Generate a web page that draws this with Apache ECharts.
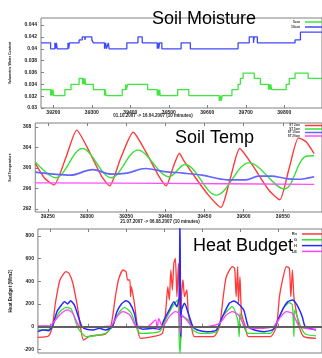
<!DOCTYPE html>
<html>
<head>
<meta charset="utf-8">
<script src="https://cdn.jsdelivr.net/npm/echarts@6/dist/echarts.min.js"></script>
<style>
html, body { margin: 0; padding: 0; background: #fff; }
#chart { width: 322px; height: 358px; }
</style>
</head>
<body>
<div id="chart"></div>
<script>
// tick labels
var moistXTicks = [39200, 39300, 39400, 39500, 39600, 39700, 39800];
var moistYTicks = [0.03, 0.032, 0.034, 0.036, 0.038, 0.04, 0.042, 0.044];
var tempXTicks = [39250, 39300, 39350, 39400, 39450, 39500, 39550];
var tempYTicks = [292, 296, 300, 304, 308];
var heatXTicks = [39250, 39300, 39350, 39400, 39450, 39500, 39550];
var heatYTicks = [-200, 0, 200, 400, 600, 800];

// soil moisture (step data)
var moist5cm = [
  [39168, 0.0331], [39193, 0.0321], [39195, 0.0331], [39197, 0.0321], [39199, 0.0331], [39201, 0.0321],
  [39230, 0.0331], [39246, 0.034], [39267, 0.035], [39276, 0.034], [39278, 0.035], [39280, 0.034], [39282, 0.035], [39284, 0.034],
  [39304, 0.0331], [39333, 0.0321], [39335, 0.0331], [39337, 0.0321],
  [39379, 0.0331], [39388, 0.034], [39390, 0.0331], [39393, 0.034],
  [39445, 0.0331], [39470, 0.0321], [39472, 0.0331], [39474, 0.0321], [39476, 0.0331], [39478, 0.0321],
  [39523, 0.0331], [39552, 0.0321], [39631, 0.0312], [39634, 0.0321], [39636, 0.0312], [39639, 0.0321],
  [39664, 0.0331], [39680, 0.034], [39686, 0.035], [39693, 0.0359], [39722, 0.035], [39738, 0.034],
  [39759, 0.0331], [39761, 0.034], [39763, 0.0331], [39765, 0.034], [39767, 0.0331],
  [39805, 0.034], [39813, 0.035], [39828, 0.0359], [39862, 0.035], [39898, 0.035]
];
var moist10cm = [
  [39168, 0.041], [39193, 0.040], [39204, 0.041], [39206, 0.040], [39208, 0.041], [39210, 0.040],
  [39238, 0.041], [39240, 0.040], [39242, 0.041], [39267, 0.0415], [39275, 0.042], [39282, 0.0415], [39284, 0.042],
  [39300, 0.0415], [39304, 0.041], [39333, 0.040], [39336, 0.041], [39338, 0.040], [39343, 0.041], [39345, 0.040],
  [39391, 0.041], [39420, 0.042], [39431, 0.041],
  [39470, 0.040], [39472, 0.041], [39474, 0.040], [39476, 0.041], [39482, 0.040],
  [39532, 0.041], [39556, 0.040], [39680, 0.041], [39709, 0.042], [39720, 0.041], [39722, 0.042], [39730, 0.041],
  [39828, 0.0415], [39842, 0.0428], [39898, 0.0428]
];

// soil temperature
var temp2cm = [
  [39234, 300.9], [39246, 298.0], [39258, 296.7], [39273, 302.0], [39287, 307.4], [39303, 303.2], [39319, 298.3],
  [39329, 296.5], [39343, 301.9], [39359, 307.0], [39375, 303.2], [39391, 298.6], [39401, 296.5], [39411, 300.6],
  [39418, 302.9], [39423, 301.6], [39439, 298.0], [39455, 294.7], [39471, 292.3], [39483, 298.0], [39495, 303.8],
  [39511, 300.6], [39532, 295.7], [39546, 293.8], [39558, 299.9], [39570, 305.9], [39580, 305.1], [39590, 302.8]
];
var temp5cm = [
  [39234, 301.2], [39260, 298.1], [39294, 303.8], [39331, 298.1], [39365, 303.5], [39405, 298.3], [39425, 300.7],
  [39465, 294.7], [39507, 301.0], [39552, 295.9], [39578, 302.2], [39590, 302.4]
];
var temp10cm = [
  [39234, 299.2], [39258, 298.8], [39279, 298.6], [39307, 299.7], [39331, 298.8], [39351, 299.0], [39375, 299.9],
  [39399, 299.3], [39423, 299.0], [39447, 298.6], [39479, 297.7], [39503, 297.7], [39519, 298.4], [39536, 298.4],
  [39552, 298.0], [39568, 297.8], [39590, 298.3]
];
var temp20cm = [[39234, 297.1], [39400, 297.0], [39590, 296.8]];

// heat budget
var heatRn = [
  [39234, -94], [39248, -82], [39253, 0], [39257, 206], [39263, 411], [39271, 485], [39275, 470], [39280, 382],
  [39286, 176], [39290, 0], [39294, -118], [39303, -82], [39323, -65], [39330, 0], [39336, 264], [39340, 411],
  [39346, 499], [39350, 485], [39352, 411], [39355, 411], [39356, 264], [39357, 352], [39361, 206], [39365, 0],
  [39369, -103], [39390, -82], [39398, -59], [39402, 118], [39405, 352], [39407, 235], [39409, 499], [39411, 323],
  [39413, 560], [39415, 602], [39417, 264], [39419, 558], [39421, 118], [39422, -118], [39423, 264], [39425, 411],
  [39427, 264], [39430, 323], [39432, 118], [39436, 0], [39440, -88], [39465, -88], [39473, 0], [39478, 264],
  [39482, 440], [39490, 529], [39493, 514], [39495, 264], [39497, 529], [39498, 206], [39500, 440], [39502, 118],
  [39507, 0], [39511, -88], [39540, -88], [39548, 0], [39552, 264], [39557, 440], [39561, 529], [39565, 514],
  [39567, 264], [39569, 499], [39571, 264], [39573, 176], [39578, 0], [39584, -88], [39600, -103]
];
var heatG = [
  [39234, -29], [39248, -23], [39253, 0], [39261, 118], [39271, 170], [39278, 153], [39286, 0], [39292, -59],
  [39298, -88], [39323, -59], [39332, 0], [39340, 118], [39348, 170], [39357, 118], [39363, 0], [39369, -59],
  [39394, -44], [39402, 59], [39411, 176], [39418, 235], [39420, -118], [39421, -235], [39422, -118], [39424, 88],
  [39432, 59], [39438, -29], [39448, -59], [39469, -44], [39477, 88], [39490, 176], [39497, 59], [39499, -88],
  [39500, 118], [39505, 0], [39511, -59], [39540, -59], [39548, 29], [39557, 161], [39565, 211], [39569, 191],
  [39571, -88], [39572, 147], [39580, 0], [39586, -65], [39600, -82]
];
var heatH = [
  [39234, -44], [39240, -29], [39248, -35], [39253, 0], [39259, 132], [39265, 191], [39269, 220], [39273, 200],
  [39277, 229], [39282, 191], [39288, 73], [39292, 0], [39298, -23], [39307, -29], [39315, -15], [39323, -29],
  [39332, 0], [39338, 132], [39344, 200], [39350, 229], [39355, 206], [39361, 118], [39365, 0], [39373, -23],
  [39386, -15], [39394, -23], [39400, 59], [39407, 147], [39413, 220], [39417, 176], [39420, 264], [39421, 1000],
  [39422, -88], [39423, 147], [39427, 206], [39432, 118], [39438, 0], [39444, -29], [39457, -44], [39469, -29],
  [39477, 88], [39486, 206], [39492, 226], [39498, 200], [39505, 147], [39511, 0], [39519, -29], [39532, -44],
  [39544, -23], [39550, 59], [39557, 161], [39563, 220], [39569, 235], [39575, 191], [39582, 88], [39586, 0],
  [39600, -29]
];
var heatLE = [
  [39234, 6], [39250, 6], [39257, 59], [39265, 118], [39273, 147], [39280, 118], [39288, 6], [39298, -6],
  [39315, 0], [39330, 6], [39338, 88], [39346, 132], [39355, 103], [39363, 6], [39378, 0], [39389, 59],
  [39391, -29], [39393, 73], [39398, 0], [39407, 88], [39415, 132], [39420, 118], [39421, -59], [39423, 103],
  [39430, 59], [39438, -6], [39457, 0], [39473, 29], [39482, 103], [39490, 132], [39498, 103], [39507, 0],
  [39523, -15], [39544, 0], [39553, 82], [39561, 132], [39569, 118], [39578, 0], [39586, -15], [39600, -23]
];

var tickFont = { fontSize: 5, fontWeight: 'bold', color: '#222', fontFamily: 'Liberation Sans' };
var frame = '#808080';

function xAxisOf(grid, min, max, ticks, pos, labels) {
  return {
    type: 'value', gridIndex: grid, min: min, max: max, position: pos,
    axisLine: { show: false },
    axisTick: { inside: true, length: 3, lineStyle: { color: frame }, customValues: ticks },
    axisLabel: Object.assign({ show: labels, margin: 2, customValues: ticks,
      formatter: function (v) { return String(v); } }, tickFont),
    splitLine: { show: false }
  };
}
function yAxisOf(grid, min, max, ticks, name, gap, nameSize) {
  return {
    type: 'value', gridIndex: grid, min: min, max: max,
    name: name, nameLocation: 'middle', nameRotate: 90, nameGap: gap,
    nameTextStyle: { fontSize: nameSize, fontWeight: 'bold', color: '#222', fontFamily: 'Liberation Sans' },
    axisLine: { show: false },
    axisTick: { inside: true, length: 3, lineStyle: { color: frame }, customValues: ticks },
    axisLabel: Object.assign({ margin: 4, customValues: ticks }, tickFont),
    splitLine: { show: false }
  };
}
function line(name, xi, yi, data, color, width, extra) {
  return Object.assign({
    name: name, type: 'line', xAxisIndex: xi, yAxisIndex: yi, data: data,
    showSymbol: false, symbol: 'none', lineStyle: { color: color, width: width },
    itemStyle: { color: color }, animation: false
  }, extra || {});
}
function legendOf(names, top, right, gap, size, lh, iw) {
  return {
    data: names, orient: 'vertical', top: top, right: right, align: 'right',
    itemWidth: iw, itemHeight: 1.5, itemGap: gap, padding: 0, icon: 'rect',
    textStyle: { fontSize: size, lineHeight: lh, fontWeight: 'bold', color: '#333', fontFamily: 'Liberation Sans' }
  };
}
function titleOf(text, left, top) {
  return { text: text, left: left, top: top, padding: 0,
    textStyle: { fontSize: 18, fontWeight: 'normal', color: '#000', fontFamily: 'Liberation Sans' } };
}
function caption(text, x, y) {
  return { type: 'text', x: x, y: y, silent: true,
    style: { text: text, textAlign: 'center', textVerticalAlign: 'middle', fill: '#222',
      font: 'bold 4.5px "Liberation Sans"' } };
}

var chart = echarts.init(document.getElementById('chart'));
chart.setOption({
  animation: false,
  title: [
    titleOf('Soil Moisture', 152, 10),
    titleOf('Soil Temp', 175, 129),
    titleOf('Heat Budget', 193, 237)
  ],
  legend: [
    legendOf(['5cm', '10cm'], 20, -9, 1, 3.5, 3, 26),
    legendOf(['ST 2cm', 'ST 5cm', 'ST 10cm', 'ST 20cm'], 124, -9, 0.5, 3, 2, 26),
    legendOf(['Rn', 'G', 'H', 'LE'], 232, -12, 1.8, 4, 4, 32)
  ],
  grid: [
    { left: 40, top: 18, right: -12, height: 90, show: true, borderColor: frame, borderWidth: 1 },
    { left: 30, top: 123, right: -12, height: 89, show: true, borderColor: frame, borderWidth: 1 },
    { left: 35, top: 229, right: -12, height: 124, show: true, borderColor: frame, borderWidth: 1 }
  ],
  xAxis: [
    xAxisOf(0, 39168, 39898, moistXTicks, 'bottom', true),
    xAxisOf(1, 39234, 39600, tempXTicks, 'bottom', true),
    xAxisOf(2, 39234, 39608, heatXTicks, 'bottom', false),
    xAxisOf(1, 39234, 39600, tempXTicks, 'top', false),
    xAxisOf(2, 39234, 39608, heatXTicks, 'top', false)
  ],
  yAxis: [
    yAxisOf(0, 0.03, 0.0452, moistYTicks, 'Volumetric Water Content', 29, 3.5),
    yAxisOf(1, 291.4, 308.8, tempYTicks, 'Soil Temperature', 17, 3.5),
    yAxisOf(2, -232, 860, heatYTicks, 'Heat Budget (W/m2)', 24, 4.5)
  ],
  graphic: [
    caption('01.10.2007 -> 16.04.2007 (10 minutes)', 153, 116),
    caption('21.07.2007 -> 06.08.2007 (10 minutes)', 160, 222)
  ],
  series: [
    line('5cm', 0, 0, moist5cm, '#3ee63e', 1.3, { step: 'end' }),
    line('10cm', 0, 0, moist10cm, '#4048ff', 1.3, { step: 'end' }),
    line('ST 2cm', 1, 1, temp2cm, '#ff3838', 1.4, { smooth: 0.2 }),
    line('ST 5cm', 1, 1, temp5cm, '#38e038', 1.4, { smooth: 0.35 }),
    line('ST 10cm', 1, 1, temp10cm, '#6464ff', 1.7, { smooth: 0.35 }),
    line('ST 20cm', 1, 1, temp20cm, '#ff50ff', 1.3, { smooth: 0.35 }),
    line('Rn', 2, 2, heatRn, '#ff3838', 1.3, {
      smooth: 0.2,
      markLine: { silent: true, symbol: 'none', label: { show: false }, animation: false,
        lineStyle: { color: '#606060', width: 2, type: 'solid' }, data: [{ yAxis: 0 }] }
    }),
    line('G', 2, 2, heatG, '#30e030', 1.3, { smooth: 0.2 }),
    line('H', 2, 2, heatH, '#2828ff', 1.5, { smooth: 0.2 }),
    line('LE', 2, 2, heatLE, '#ff40ff', 1.3, { smooth: 0.2 })
  ]
});
</script>
</body>
</html>
